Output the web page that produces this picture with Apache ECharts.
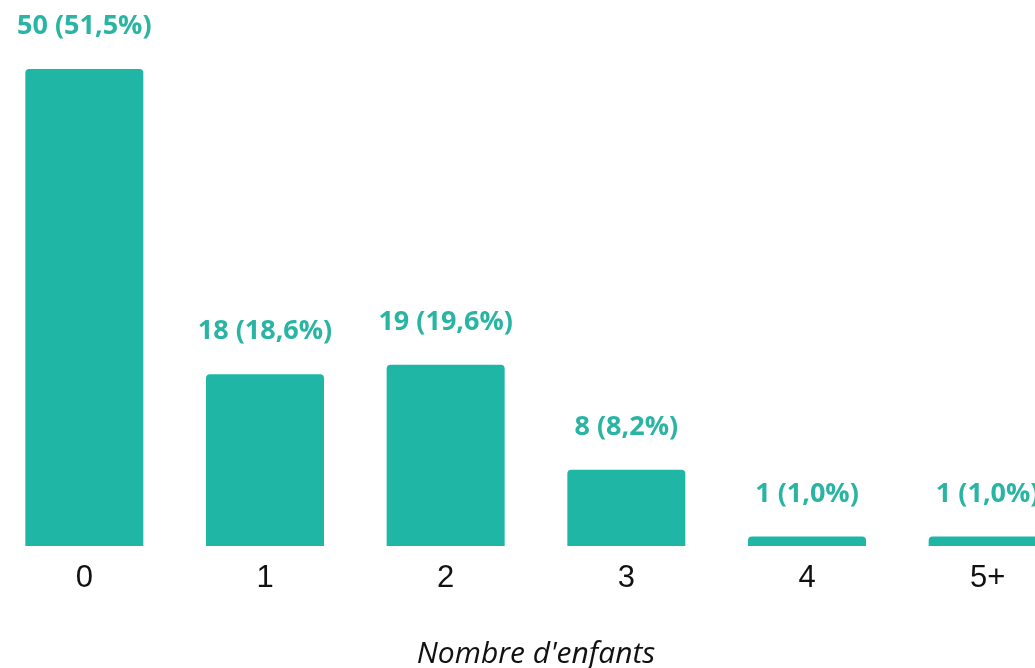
<!DOCTYPE html>
<html>
<head>
<meta charset="utf-8">
<script src="https://cdn.jsdelivr.net/npm/echarts@6/dist/echarts.min.js"></script>
<style>
html,body{margin:0;padding:0;background:#fff;}
#chart{width:1035px;height:668px;}
</style>
</head>
<body>
<div id="chart"></div>
<script>
const categories = ['0', '1', '2', '3', '4', '5+'];
const counts = [50, 18, 19, 8, 1, 1];
const percents = ['51,5', '18,6', '19,6', '8,2', '1,0', '1,0'];
const axisTitle = "Nombre d'enfants";

const chart = echarts.init(document.getElementById('chart'));
chart.setOption({
  animation: false,
  grid: { left: -6, width: 1084, top: 69, bottom: 122, containLabel: false, outerBoundsMode: 'none' },
  xAxis: {
    type: 'category',
    data: categories,
    axisLine: { show: false },
    axisTick: { show: false },
    axisLabel: { color: '#111', fontSize: 31, fontFamily: 'Liberation Sans', margin: 17 },
    name: axisTitle,
    nameLocation: 'middle',
    nameGap: 93,
    nameTextStyle: { color: '#111', fontSize: 30, fontStyle: 'italic', fontFamily: 'Open Sans' }
  },
  yAxis: {
    type: 'value', min: 0, max: 50, show: false
  },
  series: [{
    type: 'bar',
    data: counts,
    barWidth: 118,
    itemStyle: { color: '#20B6A6', borderRadius: [4, 4, 0, 0] },
    label: {
      show: true,
      position: 'top',
      distance: 29,
      color: '#2AB4A4',
      fontSize: 27,
      fontWeight: 'bold',
      fontFamily: 'Open Sans',
      formatter: p => counts[p.dataIndex] + ' (' + percents[p.dataIndex] + '%)'
    }
  }]
});
</script>
</body>
</html>
